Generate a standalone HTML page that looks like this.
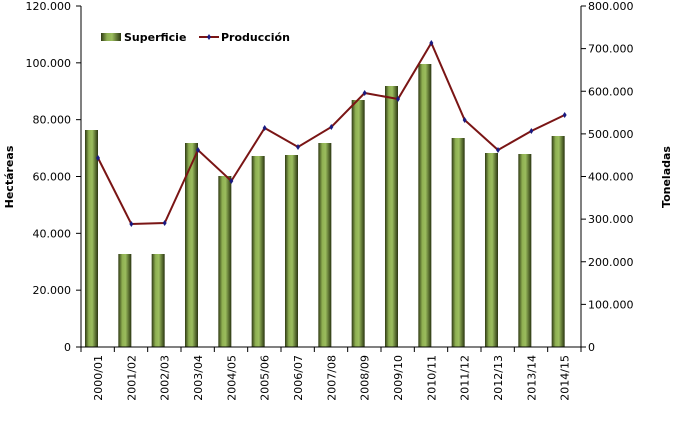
<!DOCTYPE html>
<html><head><meta charset="utf-8"><style>
body{margin:0;background:#fff}
svg text{font-family:"DejaVu Sans","Liberation Sans",sans-serif;font-size:11px;fill:#000}
</style></head><body>
<svg width="675" height="417" xmlns="http://www.w3.org/2000/svg">
<defs>
<linearGradient id="g" x1="0" x2="1" y1="0" y2="0">
<stop offset="0" stop-color="#2f3a14"/><stop offset="0.3" stop-color="#8fb052"/><stop offset="0.55" stop-color="#9bbd5e"/><stop offset="1" stop-color="#2a3510"/>
</linearGradient>
</defs>
<g id="bars"></g>
<line x1="81" y1="6" x2="81" y2="347" stroke="#000"/>
<line x1="581" y1="6" x2="581" y2="347" stroke="#000"/>
<line x1="81" y1="347" x2="581" y2="347" stroke="#000"/>
<g id="ax"></g>
<polyline id="ln" fill="none" stroke="#7a1515" stroke-width="2"/>
<g id="mk"></g>
<text transform="translate(13,177) rotate(-90)" text-anchor="middle" font-weight="bold">Hectáreas</text>
<text transform="translate(670,177) rotate(-90)" text-anchor="middle" font-weight="bold">Toneladas</text>
<rect x="101" y="33" width="20" height="8" fill="url(#g)"/>
<text x="124" y="41" font-weight="bold">Superficie</text>
<line x1="199" y1="37" x2="219" y2="37" stroke="#7a1515" stroke-width="2"/>
<path d="M209 34 L211 37 L209 40 L207 37Z" fill="#1a1a80"/>
<text x="221" y="41" font-weight="bold">Producción</text>
</svg>
<script>
var ns="http://www.w3.org/2000/svg";
function el(p,t,a,tx){var e=document.createElementNS(ns,t);for(var k in a)e.setAttribute(k,a[k]);if(tx)e.textContent=tx;document.getElementById(p).appendChild(e);}
var cats=["2000/01","2001/02","2002/03","2003/04","2004/05","2005/06","2006/07","2007/08","2008/09","2009/10","2010/11","2011/12","2012/13","2013/14","2014/15"];
var bt=[130,254,254,143,176,156,155,143,100,86,64,138,153,154,136];
var ly=[158,224,223,150,181,128,147,127,93,99,43,120,150,131,115];
var w=500/15,pts=[];
for(var i=0;i<15;i++){var x0=81+i*w;
el("bars","rect",{x:x0+4,y:bt[i],width:13,height:347-bt[i],fill:"url(#g)"});
var cx=x0+17;pts.push(cx+","+ly[i]);
el("mk","path",{d:"M"+cx+" "+(ly[i]-3)+" l2 3 l-2 3 l-2 -3z",fill:"#1a1a80"});
el("ax","line",{x1:x0,y1:347,x2:x0,y2:352,stroke:"#000"});
el("ax","text",{transform:"translate("+(x0+21)+",355) rotate(-90)","text-anchor":"end"},cats[i]);}
el("ax","line",{x1:581,y1:347,x2:581,y2:352,stroke:"#000"});
document.getElementById("ln").setAttribute("points",pts.join(" "));
var L=["0","20.000","40.000","60.000","80.000","100.000","120.000"],R=["0","100.000","200.000","300.000","400.000","500.000","600.000","700.000","800.000"];
for(var j=0;j<7;j++){var y=347-j*341/6;el("ax","line",{x1:76,y1:y,x2:81,y2:y,stroke:"#000"});el("ax","text",{x:71,y:y+4,"text-anchor":"end"},L[j]);}
for(var j=0;j<9;j++){var y=347-j*341/8;el("ax","line",{x1:581,y1:y,x2:586,y2:y,stroke:"#000"});el("ax","text",{x:588,y:y+4},R[j]);}
</script>
</body></html>
